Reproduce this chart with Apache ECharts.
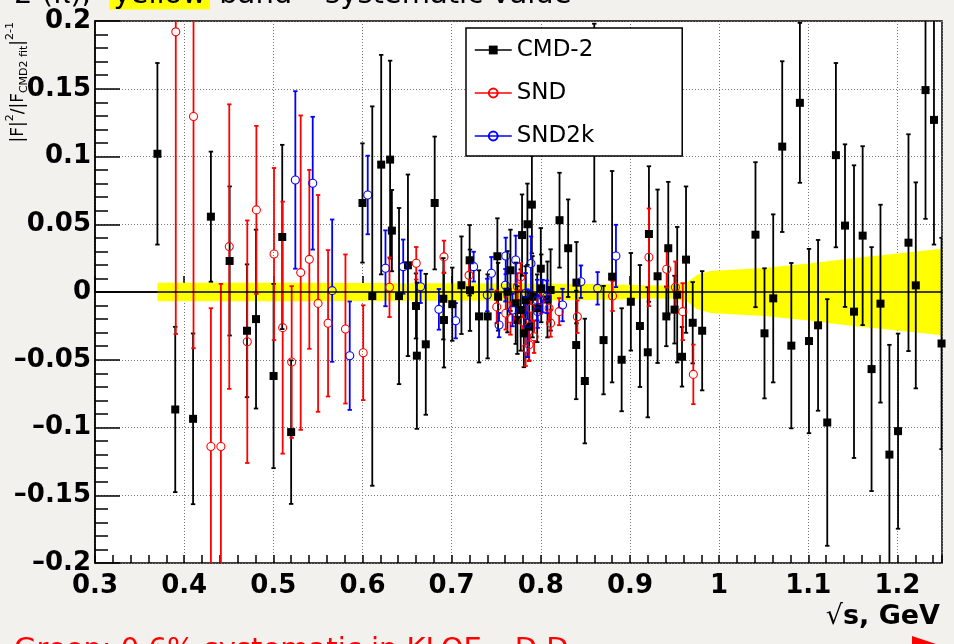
<!DOCTYPE html>
<html><head><meta charset="utf-8">
<script src="https://cdn.jsdelivr.net/npm/echarts@6/dist/echarts.min.js"></script>
<style>html,body{margin:0;padding:0;background:#f3f1ee;}#c{width:954px;height:644px;}</style>
</head><body><div id="c"></div>
<script>
// ---- data ----
const cmdX = [0.370,0.390,0.410,0.430,0.451,0.4705,0.4806,0.5003,0.510,0.520,0.600,0.611,0.621,0.631,0.633,0.641,0.651,0.660,0.661,0.671,0.681,0.6907,0.6914,0.7007,0.711,0.7202,0.7206,0.7307,0.7404,0.7513,0.7521,0.7626,0.766,0.7719,0.7738,0.7775,0.779,0.781,0.783,0.785,0.787,0.790,0.7907,0.796,0.800,0.8005,0.8075,0.811,0.821,0.8307,0.8397,0.840,0.8494,0.860,0.8704,0.880,0.8907,0.901,0.9112,0.920,0.9213,0.931,0.9408,0.943,0.950,0.953,0.9584,0.9629,0.9704,0.981,1.0408,1.0509,1.0607,1.0708,1.081,1.0906,1.1008,1.111,1.1213,1.131,1.1412,1.1513,1.161,1.171,1.181,1.191,1.2007,1.2124,1.2206,1.2315,1.241,1.2495];
const cmdY = [0.102,-0.0867,-0.0936,0.0556,0.0229,-0.0286,-0.020,-0.062,0.0406,-0.1034,0.0657,-0.003,0.094,0.0977,0.0453,-0.003,0.0197,-0.0103,-0.047,-0.0386,0.0657,-0.005,-0.0207,-0.009,0.005,0.0234,0.0013,-0.018,-0.018,0.0264,-0.0035,0.0002,0.016,-0.0083,-0.0207,-0.0133,0.042,-0.0305,-0.006,0.050,-0.0256,0.0645,-0.0035,-0.012,0.0172,0.0027,-0.0055,0.0015,0.053,0.0323,-0.0391,0.0069,-0.0657,0.125,-0.0355,0.0113,-0.050,-0.0072,-0.0251,-0.0445,0.0428,0.0116,-0.018,0.0323,-0.013,-0.002,-0.0478,0.0239,-0.0227,-0.0286,0.0423,-0.0305,-0.0047,0.1073,-0.0396,0.1396,-0.0362,-0.0246,-0.0963,0.101,0.049,-0.0145,0.0416,-0.0569,-0.0086,-0.120,-0.1027,0.0364,0.0049,0.149,0.127,-0.038];
const cmdE = [0.067,0.061,0.063,0.048,0.055,0.049,0.066,0.068,0.068,0.053,0.044,0.140,0.081,0.073,0.030,0.065,0.067,0.024,0.054,0.052,0.049,0.030,0.035,0.027,0.036,0.026,0.030,0.034,0.031,0.028,0.025,0.030,0.030,0.030,0.025,0.030,0.030,0.025,0.025,0.030,0.025,0.036,0.030,0.025,0.030,0.025,0.028,0.030,0.035,0.036,0.040,0.030,0.046,0.073,0.040,0.078,0.038,0.036,0.045,0.048,0.050,0.064,0.022,0.049,0.025,0.050,0.022,0.054,0.030,0.044,0.0535,0.048,0.062,0.063,0.061,0.059,0.068,0.063,0.091,0.068,0.060,0.108,0.066,0.090,0.073,0.081,0.072,0.080,0.076,0.095,0.092,0.078];

const sndX = [0.3906,0.4105,0.430,0.4412,0.4506,0.4708,0.481,0.5008,0.5105,0.5206,0.5307,0.5404,0.5502,0.5614,0.5809,0.6008,0.6303,0.6603,0.6914,0.7195,0.7506,0.7607,0.766,0.7738,0.7775,0.780,0.783,0.7868,0.789,0.7925,0.800,0.8093,0.811,0.8206,0.841,0.8805,0.9213,0.9412,0.951,0.9592,0.9711];
const sndY = [0.192,0.1295,-0.114,-0.114,0.0335,-0.0367,0.0606,0.028,-0.0263,-0.0517,0.0143,0.0241,-0.0084,-0.0231,-0.0273,-0.0448,0.0035,0.0212,0.0259,0.0123,-0.011,-0.0157,-0.0195,0.0039,0.0113,-0.022,-0.0416,-0.039,-0.012,-0.033,-0.006,-0.012,-0.023,-0.0145,-0.0182,-0.003,0.0256,0.0168,0.0035,-0.0145,-0.0608];
const sndE = [0.223,0.171,0.102,0.120,0.105,0.0895,0.062,0.0635,0.093,0.056,0.116,0.066,0.080,0.054,0.055,0.035,0.022,0.012,0.012,0.010,0.012,0.012,0.012,0.010,0.010,0.010,0.013,0.012,0.010,0.012,0.010,0.010,0.010,0.010,0.012,0.011,0.036,0.0135,0.019,0.021,0.022];

const snd2kX = [0.5247,0.5442,0.566,0.5857,0.6059,0.6258,0.6457,0.6652,0.6857,0.7045,0.7247,0.740,0.7446,0.7532,0.7603,0.7607,0.7682,0.7719,0.783,0.785,0.789,0.796,0.7965,0.802,0.8067,0.8244,0.845,0.8637,0.8843];
const snd2kY = [0.0827,0.0803,0.001,-0.047,0.0716,0.0175,0.0187,0.0039,-0.0128,-0.0212,0.0187,-0.0022,0.0138,-0.0244,0.005,0.0266,-0.0133,0.0236,-0.001,-0.023,0.021,-0.006,-0.0145,-0.003,-0.0035,-0.0096,0.0076,0.0027,0.0266];
const snd2kE = [0.0655,0.049,0.0525,0.040,0.029,0.028,0.020,0.012,0.015,0.013,0.011,0.012,0.012,0.009,0.012,0.0135,0.012,0.018,0.015,0.025,0.020,0.015,0.012,0.012,0.012,0.012,0.012,0.012,0.023];

// systematic band (half width)
const bandX = [0.37,0.40,0.50,0.60,0.70,0.80,0.88,0.92,0.95,0.965,0.975,0.99,1.05,1.10,1.15,1.20,1.25];
const bandW = [0.0068,0.0068,0.0068,0.0066,0.0064,0.0062,0.0058,0.0048,0.0050,0.0075,0.0125,0.0155,0.0178,0.021,0.025,0.0285,0.032];

const xTicks = [0.3,0.4,0.5,0.6,0.7,0.8,0.9,1.0,1.1,1.2];
const yTicks = [-0.2,-0.15,-0.1,-0.05,0,0.05,0.1,0.15,0.2];

// ---- chart ----
const chart = echarts.init(document.getElementById('c'), null, {renderer:'canvas'});
const FONT = 'DejaVu Sans';

function zip3(a,b,c){ return a.map((v,i)=>[v,b[i],c[i]]); }

function errRender(color, gap){
  return function(params, api){
    const x = api.value(0), y = api.value(1), e = api.value(2);
    const c = api.coord([x,y]);
    const t = api.coord([x,y+e]);
    const b = api.coord([x,y-e]);
    const st = {stroke:color, lineWidth:1.8};
    const ch = [];
    if (c[1]-t[1] > gap) ch.push({type:'line', shape:{x1:c[0],y1:t[1],x2:c[0],y2:c[1]-gap}, style:st});
    if (b[1]-c[1] > gap) ch.push({type:'line', shape:{x1:c[0],y1:c[1]+gap,x2:c[0],y2:b[1]}, style:st});
    ch.push({type:'line', shape:{x1:c[0]-2.2,y1:t[1],x2:c[0]+2.2,y2:t[1]}, style:st});
    ch.push({type:'line', shape:{x1:c[0]-2.2,y1:b[1],x2:c[0]+2.2,y2:b[1]}, style:st});
    return {type:'group', children:ch};
  };
}

function bandRender(params, api){
  if (params.dataIndex !== 0) return null;
  const n = params.dataInsideLength;
  const pts = [];
  for (let i=0;i<n;i++) pts.push(api.coord([api.value(0,i), api.value(1,i)]));
  for (let i=n-1;i>=0;i--) pts.push(api.coord([api.value(0,i), -api.value(1,i)]));
  return {type:'polygon', shape:{points:pts}, style:{fill:'#ffff00', stroke:null}};
}

const fmt = v => { const r = Math.round(v*100)/100; return r===0 ? '0' : (r<0 ? '–'+String(-r) : String(r)); };

const option = {
  animation:false,
  backgroundColor:'#f3f1ee',
  grid:{left:95, right:12, top:21, bottom:81, show:true, backgroundColor:'#ffffff', borderColor:'#000', borderWidth:1.5, containLabel:false},
  xAxis:[{
    type:'value', min:0.3, max:1.25, interval:0.1, position:'bottom',
    axisLine:{show:true, lineStyle:{color:'#000', width:1.5}},
    axisTick:{show:true, inside:true, length:16, lineStyle:{color:'#000', width:1.5}},
    axisLabel:{show:true, margin:10, showMaxLabel:false, color:'#000', fontFamily:FONT, fontWeight:'bold', fontSize:26, formatter:fmt},
    splitLine:{show:true, lineStyle:{color:'#777', width:1, type:[1,2]}}
  },{
    type:'value', min:0.3, max:1.25, interval:0.02, position:'bottom',
    axisLine:{show:false},
    axisTick:{show:true, inside:true, length:8, lineStyle:{color:'#000', width:1.5}},
    axisLabel:{show:false}, splitLine:{show:false}
  }],
  yAxis:{
    type:'value', min:-0.2, max:0.2, interval:0.05,
    axisLine:{show:true, lineStyle:{color:'#000', width:1.5}},
    axisTick:{show:true, inside:true, length:25, lineStyle:{color:'#000', width:1.5}},
    minorTick:{show:true, splitNumber:5, length:13, lineStyle:{color:'#000', width:1.5}},
    axisLabel:{show:true, margin:4, color:'#000', fontFamily:FONT, fontWeight:'bold', fontSize:26, formatter:fmt},
    splitLine:{show:true, lineStyle:{color:'#777', width:1, type:[1,2]}}
  },
  legend:{
    show:true, orient:'vertical', left:466, top:28, selectedMode:false, z:50, zlevel:0,
    data:['CMD-2','SND','SND2k'],
    backgroundColor:'#ffffff', borderColor:'#000', borderWidth:1.5, borderRadius:0,
    padding:[10,88,8,8], itemGap:19, itemWidth:37, itemHeight:11,
    textStyle:{fontFamily:FONT, fontSize:23, color:'#000', lineHeight:24},
    lineStyle:{width:1.5, opacity:1}
  },
  graphic:[
    {type:'text', x:14, y:-5, z:10, style:{
      text:'{a|2 (π),  }{h|yellow}{a| band – systematic value}', verticalAlign:'middle',
      rich:{a:{fontFamily:FONT, fontSize:29, fill:'#000', lineHeight:35},
            h:{fontFamily:FONT, fontSize:29, fill:'#000', lineHeight:35, backgroundColor:'#ffff00', padding:[0,4,0,4]}}}},
    {type:'text', x:14, y:650, z:10, style:{
      text:'Green: 0.6% systematic in KLOE – D.D.', verticalAlign:'middle',
      fontFamily:FONT, fontSize:29, fill:'#ff0000'}},
    {type:'polygon', z:10, shape:{points:[[912,636],[936,644],[912,652]]}, style:{fill:'#ff0000'}},
    {type:'text', x:940, y:617, z:10, style:{
      text:'{r|√}{b|s, GeV}', align:'right', verticalAlign:'middle',
      rich:{r:{fontFamily:FONT, fontSize:27, fill:'#000'}, b:{fontFamily:FONT, fontSize:27, fontWeight:'bold', fill:'#000'}}}},
    {type:'text', x:19, y:22, rotation:Math.PI/2, z:10, style:{
      text:'{m||F|}{sup|2}{m|/|F}{sub|CMD2 fit}{m||}{sup|2-1}', align:'right', verticalAlign:'middle',
      rich:{m:{fontFamily:FONT, fontSize:17, fill:'#000', lineHeight:28, verticalAlign:'middle'},
            sup:{fontFamily:FONT, fontSize:11, fill:'#000', verticalAlign:'top'},
            sub:{fontFamily:FONT, fontSize:11, fill:'#000', verticalAlign:'bottom', padding:[0,0,3,0]}}}}
  ],
  series:[
    {type:'custom', name:'band', z:1, clip:true, renderItem:bandRender,
     data:bandX.map((x,i)=>[x,bandW[i]]), encode:{x:0,y:1}, silent:true,
     markLine:{silent:true, symbol:['none','none'], label:{show:false}, lineStyle:{color:'#000', width:1.6, type:'solid'}, data:[{yAxis:0}]}},
    {type:'custom', name:'cmdErr', z:3, clip:true, renderItem:errRender('#000',0), data:zip3(cmdX,cmdY,cmdE), encode:{x:0,y:1}, silent:true},
    {type:'custom', name:'sndErr', z:3, clip:true, renderItem:errRender('#ff0000',4), data:zip3(sndX,sndY,sndE), encode:{x:0,y:1}, silent:true},
    {type:'custom', name:'snd2kErr', z:3, clip:true, renderItem:errRender('#0000ff',4), data:zip3(snd2kX,snd2kY,snd2kE), encode:{x:0,y:1}, silent:true},
    {type:'line', name:'CMD-2', z:4, symbol:'rect', symbolSize:8, showSymbol:true, clip:true,
     data:cmdX.map((x,i)=>[x,cmdY[i]]), lineStyle:{opacity:0, color:'#000'}, itemStyle:{color:'#000'}},
    {type:'line', name:'SND', z:4, symbol:'circle', symbolSize:8, showSymbol:true, clip:true,
     data:sndX.map((x,i)=>[x,sndY[i]]), lineStyle:{opacity:0, color:'#ff0000'}, itemStyle:{color:'rgba(0,0,0,0)', borderColor:'#ff0000', borderWidth:1.1}},
    {type:'line', name:'SND2k', z:4, symbol:'circle', symbolSize:8, showSymbol:true, clip:true,
     data:snd2kX.map((x,i)=>[x,snd2kY[i]]), lineStyle:{opacity:0, color:'#0000ff'}, itemStyle:{color:'rgba(0,0,0,0)', borderColor:'#0000ff', borderWidth:1.1}}
  ]
};
chart.setOption(option);
</script></body></html>
